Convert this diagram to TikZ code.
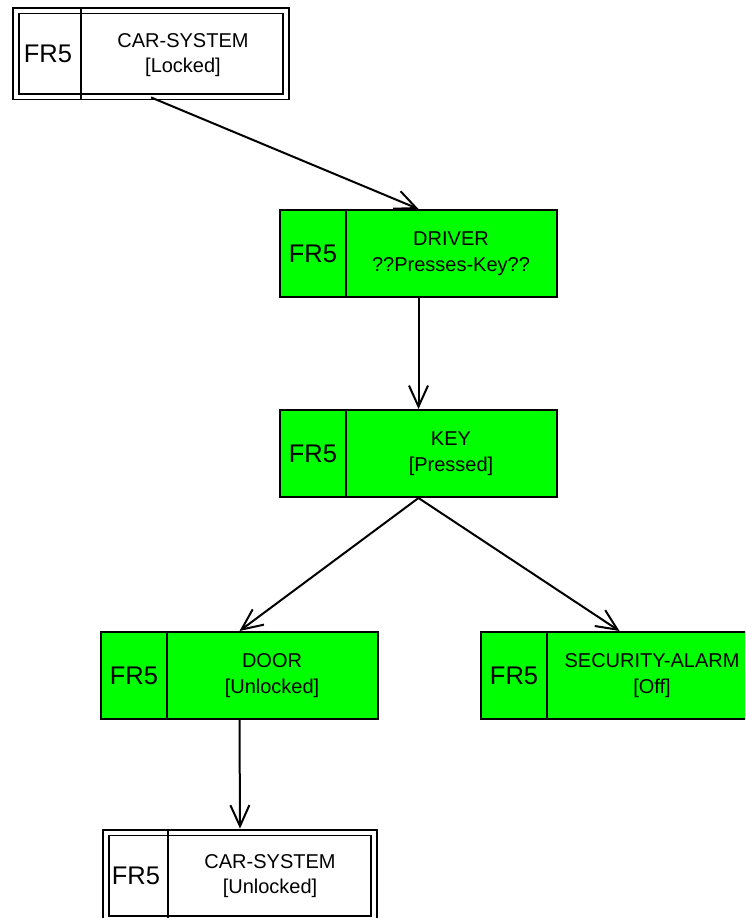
\documentclass[tikz,border=0pt]{standalone}
\usepackage{fontspec}
\setmainfont{Liberation Sans}
\usetikzlibrary{arrows.meta}
\definecolor{boxgreen}{RGB}{0,255,0}
\tikzset{
  gbox/.style={draw=black, line width=2pt, fill=boxgreen, minimum width=277pt, minimum height=87pt, inner sep=0pt},
  wbox/.style={draw=black, line width=1.8pt, double=white, double distance=4pt, fill=white, minimum width=270pt, minimum height=86pt, inner sep=0pt},
  divider/.style={line width=2pt},
  frtext/.style={font=\fontsize{25.5}{30}\selectfont, inner sep=0pt},
  lbl/.style={font=\fontsize{20}{25.5}\selectfont, align=center, inner sep=0pt},
  conn/.style={line width=2pt, -{Straight Barb[length=21pt, width=19pt, line width=2pt]}}
}
\begin{document}
\begin{tikzpicture}[x=1pt, y=-1pt]
\useasboundingbox (0,0) rectangle (745,918);
\clip (0,0) rectangle (745,918);
% top car system
\node[wbox] (top) at (151,53.5) {};
\draw[divider] (81,7) -- (81,100);
\node[frtext] (topfr) at (48,54) {FR5};
\node[lbl] (toplbl) at (183,55) {CAR-SYSTEM\\{}[Locked]};
% driver
\node[gbox] (driver) at (418.5,253.5) {};
\draw[divider] ([xshift=67pt]driver.north west) -- ([xshift=67pt]driver.south west);
\node[frtext] (driverfr) at ([xshift=34pt]driver.west) {FR5};
\node[lbl] (driverlbl) at ([xshift=172pt]driver.west) {DRIVER\\??Presses-Key??};
% key
\node[gbox] (key) at (418.5,453.5) {};
\draw[divider] ([xshift=67pt]key.north west) -- ([xshift=67pt]key.south west);
\node[frtext] (keyfr) at ([xshift=34pt]key.west) {FR5};
\node[lbl] (keylbl) at ([xshift=172pt]key.west) {KEY\\{}[Pressed]};
% door
\node[gbox] (door) at (239.5,675.5) {};
\draw[divider] ([xshift=67pt]door.north west) -- ([xshift=67pt]door.south west);
\node[frtext] (doorfr) at ([xshift=34pt]door.west) {FR5};
\node[lbl] (doorlbl) at ([xshift=172pt]door.west) {DOOR\\{}[Unlocked]};
% security alarm
\node[gbox] (alarm) at (619.5,675.5) {};
\draw[divider] ([xshift=67pt]alarm.north west) -- ([xshift=67pt]alarm.south west);
\node[frtext] (alarmfr) at ([xshift=34pt]alarm.west) {FR5};
\node[lbl] (alarmlbl) at ([xshift=172pt]alarm.west) {SECURITY-ALARM\\{}[Off]};
% bottom car system
\node[wbox, minimum width=268pt] (bottom) at (240,875.5) {};
\draw[divider] (168,829) -- (168,922);
\node[frtext] (bottomfr) at (136,876) {FR5};
\node[lbl] (bottomlbl) at (270,876) {CAR-SYSTEM\\{}[Unlocked]};
% connectors
\draw[conn] (top.south) -- (driver.north);
\draw[conn] (driver.south) -- (key.north);
\draw[conn] (key.south) -- (door.north);
\draw[conn] (key.south) -- (alarm.north);
\draw[conn] (door.south) -- ([yshift=3pt]bottom.north);
\end{tikzpicture}
\end{document}
